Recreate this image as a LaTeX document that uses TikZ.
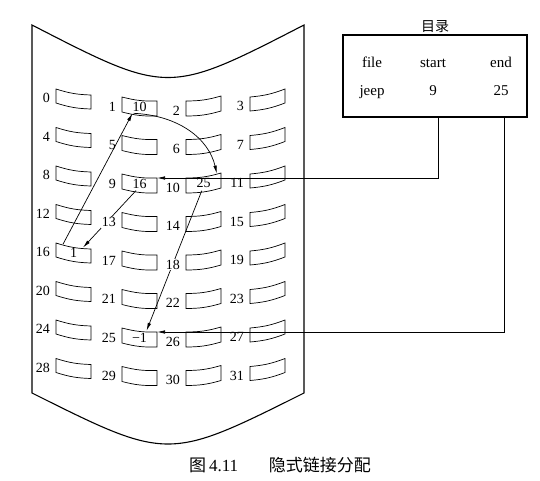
\documentclass[tikz,border=0pt]{standalone}
\usepackage{fontspec}
\setmainfont{Liberation Serif}
\newfontfamily\cjkfont{Noto Sans CJK SC}
\usetikzlibrary{arrows.meta,positioning,calc}

\begin{document}
\begin{tikzpicture}[x=1pt, y=-1pt,
  page/.style={draw, line width=1.1pt},
  slot/.style={draw, line width=0.7pt},
  num/.style={inner sep=1pt, font=\fontsize{14}{14}\selectfont},
  lbl/.style={num, anchor=east},
  l13/.style={fill=white},
  l18/.style={fill=white},
  dirtxt/.style={inner sep=0pt, anchor=base, font=\fontsize{15}{15}\selectfont},
  arr/.style={-{Latex[length=8pt,width=3.5pt]}, line width=0.7pt}
]
\useasboundingbox (0,0) rectangle (540,481);

% disk surface
\draw[page] (32,25) .. controls (168,95) .. (304,25) -- (304,393)
  .. controls (168,461) .. (32,393) -- cycle;

% blocks 0..31
\foreach \c/\lx/\ya/\yb/\h in {0/56/89/95/14, 1/122/97/101/15, 2/186/101/96/15, 3/250/97/89/14}{
  \foreach \r in {0,...,7}{
    \pgfmathtruncatemacro\n{4*\r+\c}
    \pgfmathsetmacro\dy{38.5*\r}
    \coordinate (s\n-nw) at (\lx,\ya+\dy);
    \coordinate (s\n-ne) at (\lx+35,\yb+\dy);
    \coordinate (s\n-sw) at (\lx,\ya+\dy+\h);
    \coordinate (s\n-se) at (\lx+35,\yb+\dy+\h);
    \draw[slot] (s\n-nw) to[bend right=8] (s\n-ne) -- (s\n-se)
      to[bend left=8] (s\n-sw) -- cycle;
  }
}

% block contents
\node[num] (v1) at ($(s1-nw)!0.5!(s1-se)$) {10};
\node[num] (v9) at ($(s9-nw)!0.5!(s9-se)$) {16};
\node[num] (v10) at ($(s10-nw)!0.5!(s10-se)$) {25};
\node[num] (v16) at ($(s16-nw)!0.5!(s16-se)$) {1};
\node[num] (v25) at ($(s25-nw)!0.5!(s25-se)$) {−1};

% directory
\node[draw, line width=1.1pt, minimum width=184, minimum height=82] (dir) at (435,76) {};
\node[above=1pt of dir, inner sep=1pt, font=\cjkfont\fontsize{14}{14}\selectfont] (dirtitle) {目录};
\node[dirtxt] (hfile) at (372,68) {file};
\node[dirtxt] (hstart) at (433,68) {start};
\node[dirtxt] (hend) at (501,68) {end};
\node[dirtxt] (jeep) at (372,96) {jeep};
\node[dirtxt] (first) at (433,96) {9};
\node[dirtxt] (last) at (501,96) {25};

% links
\draw[arr] ($(s16-nw)!0.2!(s16-ne)$) -- ($(s1-sw)!0.3!(s1-se)$);
\draw[arr] ($(s1-sw)!0.33!(s1-se)$) .. controls +(45,2) and +(-8,-35) .. ($(s10-nw)!0.88!(s10-ne)$);
\draw[arr] ($(s9-sw)!0.4!(s9-se)$) -- ($(s16-nw)!0.77!(s16-ne)$);
\draw[arr] ($(s10-sw)!0.45!(s10-se)$) -- ($(s25-nw)!0.7!(s25-ne)$);
\draw[arr] ([xshift=3]dir.south) |- (s9-ne);
\draw[arr] ([xshift=69]dir.south) |- (s25-ne);

% block numbers
\foreach \n in {0,...,31}
  \node[lbl, l\n/.try] (l\n) at ($(s\n-nw)!0.65!(s\n-sw)+(-5,0)$) {\n};

% caption
\node[font=\fontsize{17}{17}\selectfont] (caption) at (280,465)
  {{\cjkfont 图}\,4.11\hspace{1.8em}{\cjkfont 隐式链接分配}};
\end{tikzpicture}
\end{document}
